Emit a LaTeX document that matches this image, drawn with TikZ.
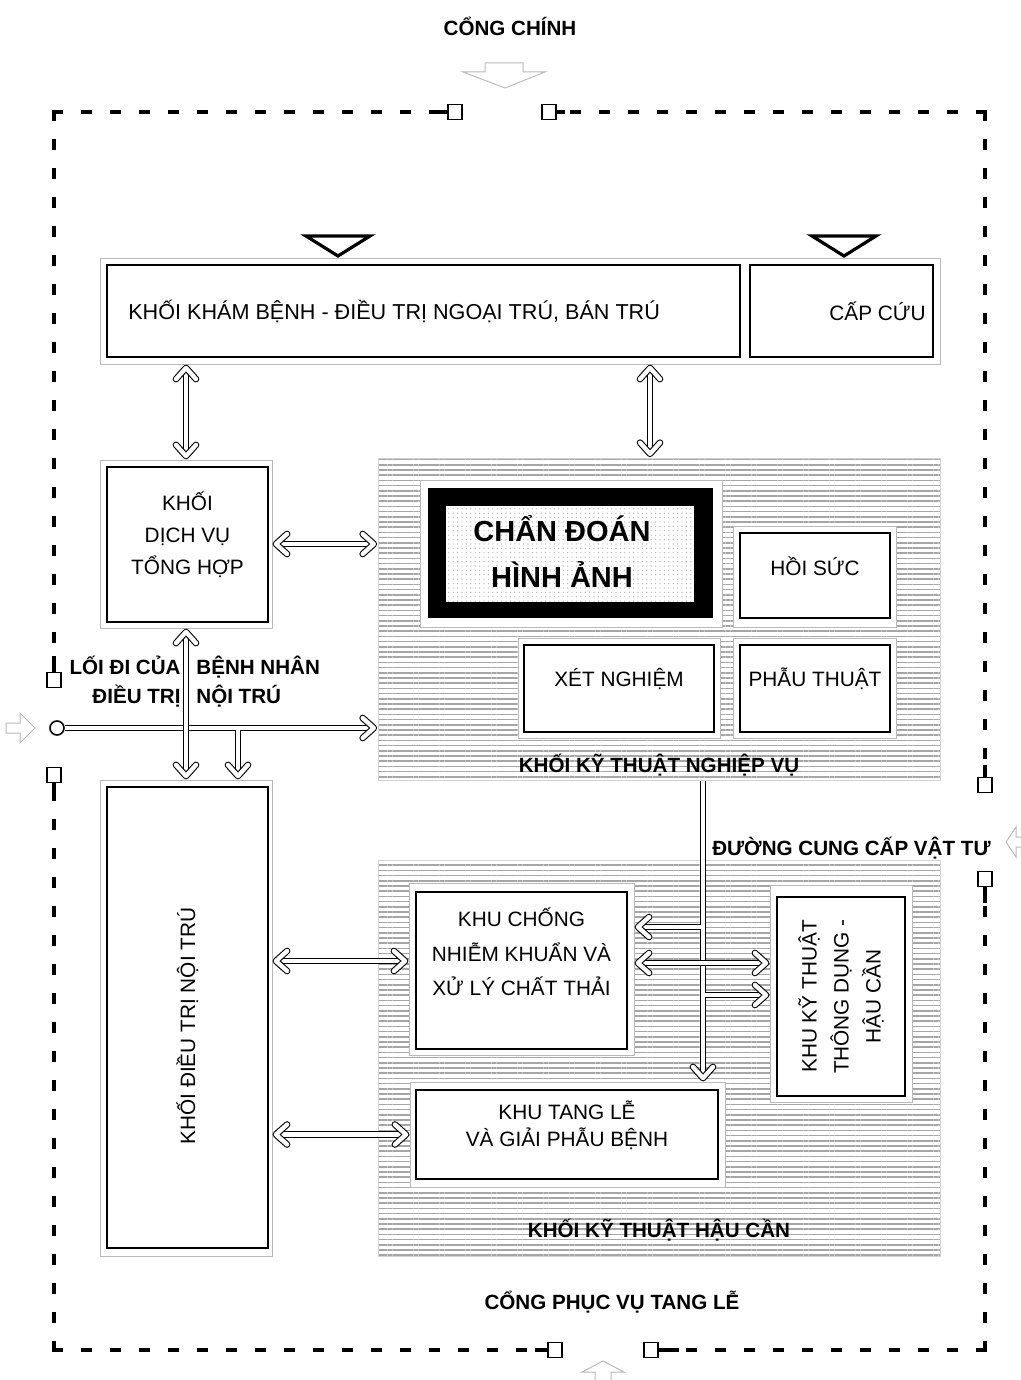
\documentclass[tikz,border=0pt]{standalone}
\usepackage{fontspec}
\setmainfont{Liberation Sans}
\usetikzlibrary{arrows.meta, positioning, calc, fit, patterns.meta}
% hollow chevron tip for the double connectors
\pgfdeclarearrow{
  name = Chevron,
  setup code = {
    \pgfarrowssettipend{0pt}
    \pgfarrowssetlineend{-1.7pt}
    \pgfarrowssetbackend{-9pt}
    \pgfarrowssetvisualbackend{-1.7pt}
    \pgfarrowshullpoint{0pt}{0pt}
    \pgfarrowsupperhullpoint{-9pt}{6.7pt}
  },
  drawing code = {
    \pgfsetinnerlinewidth{0pt}
    \pgfsetdash{}{0pt}
    \pgfsetroundcap\pgfsetroundjoin
    \pgfsetlinewidth{3.3pt}
    \pgfpathmoveto{\pgfqpoint{-7.3pt}{5pt}}
    \pgfpathlineto{\pgfqpoint{-1.7pt}{0pt}}
    \pgfpathlineto{\pgfqpoint{-7.3pt}{-5pt}}
    \pgfusepathqstroke
    \pgfsetlinewidth{2.2pt}
    \pgfsetstrokecolor{white}
    \pgfpathmoveto{\pgfqpoint{-7.3pt}{5pt}}
    \pgfpathlineto{\pgfqpoint{-1.7pt}{0pt}}
    \pgfpathlineto{\pgfqpoint{-7.3pt}{-5pt}}
    \pgfusepathqstroke
  }
}
\tikzset{
  frame/.style={rectangle, draw=gray!55, fill=white, line width=0.5pt, inner sep=0pt},
  box/.style={rectangle, draw=black, line width=1.1pt, inner sep=0pt, align=center, font=\fontsize{10.4}{16}\selectfont},
  hatch/.style={rectangle, inner sep=0pt, draw=gray!35, line width=0.4pt, pattern={Lines[angle=0, distance=2.6pt, line width=0.75pt]}, pattern color=gray!70},
  imaging/.style={rectangle, inner sep=0pt, fill=white, postaction={pattern={Dots[distance=2.2pt, radius=0.35pt]}, pattern color=gray!55}},
  txt/.style={font=\fontsize{10.4}{16}\selectfont, align=center, inner sep=0pt},
  lbl/.style={font=\fontsize{10.3}{14.5}\selectfont\bfseries, inner sep=0pt},
  dbl/.style={double=white, double distance=2.2pt, line width=0.55pt, Chevron-Chevron},
  dblend/.style={double=white, double distance=2.2pt, line width=0.55pt, -Chevron},
  border/.style={line width=2.2pt, line cap=rect, dash pattern=on 3.5pt off 11pt},
  stub/.style={line width=2.2pt},
  gatesq/.style={rectangle, draw, line width=0.9pt, fill=white, minimum width=7pt, minimum height=7.5pt, inner sep=0pt},
  gatearrow/.style={draw=gray!55, line width=0.5pt},
  tri/.style={line width=1.6pt, line join=miter}
}

\begin{document}
\begin{tikzpicture}[x=0.5pt, y=-0.5pt]
  \useasboundingbox (0,0) rectangle (1021,1380);

  % Gates
  \node[gatesq] (gt1) at (455,112) {};
  \node[gatesq] (gt2) at (549,112) {};
  \node[gatesq] (gl1) at (54,680) {};
  \node[gatesq] (gl2) at (54,775) {};
  \node[gatesq] (gr1) at (985,785) {};
  \node[gatesq] (gr2) at (985,879) {};
  \node[gatesq] (gb1) at (555,1350) {};
  \node[gatesq] (gb2) at (651,1350) {};
  \node[circle, draw, line width=0.8pt, minimum size=7pt, inner sep=0pt] (gate) at (57,728) {};

  % Outer boundary
  \draw[border] (54,112) -- (gt1.west);
  \draw[border] (985,112) -- (gt2.east);
  \draw[border] (54,112) -- (gl1.north);
  \draw[border] (54,1350) -- (gl2.south);
  \draw[border] (985,112) -- (gr1.north);
  \draw[border] (985,1350) -- (gr2.south);
  \draw[border] (54,1350) -- (gb1.west);
  \draw[border] (985,1350) -- (gb2.east);
  \draw[stub] (gt1.west) -- ++(-9pt,0);
  \draw[stub] (gt2.east) -- ++(4pt,0);
  \draw[stub] (gl1.north) -- ++(0,8pt);
  \draw[stub] (gl2.south) -- ++(0,-8pt);
  \draw[stub] (gr1.north) -- ++(0,6pt);
  \draw[stub] (gr2.south) -- ++(0,-8pt);
  \draw[stub] (gb1.west) -- ++(-6pt,0);
  \draw[stub] (gb2.east) -- ++(10pt,0);

  % Entry arrows outside
  \draw[gatearrow] (485,63) -- (523,63) -- (523,72) -- (545,72) -- (505,88) -- (463,72) -- (485,72) -- cycle;
  \draw[gatearrow] (6,723) -- (20,723) -- (20,713) -- (35,728) -- (20,743) -- (20,733) -- (6,733) -- cycle;
  \draw[gatearrow] (1021,837) -- (1016,837) -- (1016,827) -- (1006,842) -- (1016,857) -- (1016,847) -- (1021,847);
  \draw[gatearrow] (611,1380) -- (611,1372) -- (624,1372) -- (603,1361) -- (582,1372) -- (595,1372) -- (595,1380);

  % Outpatient block
  \node[frame, fit={(100,258) (940,364)}] (khamframe) {};
  \node[box, fit={(107,265) (740,357)}] (kham) {};
  \node[box, fit={(750,265) (933,357)}] (capcuu) {};
  \node[txt, anchor=west, font=\fontsize{10.8}{16}\selectfont] (khamtxt) at ([xshift=11pt]kham.west) {KHỐI KHÁM BỆNH - ĐIỀU TRỊ NGOẠI TRÚ, BÁN TRÚ};
  \node[txt, anchor=east] (capcuutxt) at ([xshift=-4pt]capcuu.east) {CẤP CỨU};
  \draw[tri] (306,236) -- (370,236) -- (338,256) -- cycle;
  \draw[tri] (812,236) -- (876,236) -- (844,256) -- cycle;

  % General services
  \node[frame, fit={(100,460) (272,628)}] (dichvuframe) {};
  \node[box, fit={(107,467) (268,622)}] (dichvu) {KHỐI\\DỊCH VỤ\\TỔNG HỢP};

  % Medical technical block
  \node[hatch, fit={(378,458) (940,780)}] (nghiepvu) {};
  \node[frame, fit={(420,480) (722,627)}] (cdhaframe) {};
  \node[rectangle, fill=black, inner sep=0pt, fit={(428,488) (713,618)}] (cdhaborder) {};
  \node[imaging, fit={(446,506) (694,602)}] (cdha) {};
  \node[align=center, inner sep=0pt, font=\fontsize{14.5}{23}\selectfont\bfseries] (cdhatxt) at ([xshift=-4pt, yshift=1.25pt]cdha.center) {CHẨN ĐOÁN\\HÌNH ẢNH};
  \node[frame, fit={(733,526) (896,627)}] (hoisucframe) {};
  \node[box, fit={(740,533) (890,618)}] (hoisuc) {HỒI SỨC};
  \node[frame, fit={(518,638) (720,738)}] (xetnghiemframe) {};
  \node[box, fit={(524,645) (714,732)}] (xetnghiem) {XÉT NGHIỆM};
  \node[frame, fit={(733,638) (896,738)}] (phauthuatframe) {};
  \node[box, fit={(740,645) (890,732)}] (phauthuat) {PHẪU THUẬT};
  \node[lbl] (nghiepvulbl) at ([yshift=8pt]nghiepvu.south) {KHỐI KỸ THUẬT NGHIỆP VỤ};

  % Inpatient block
  \node[frame, fit={(100,780) (272,1256)}] (noitruframe) {};
  \node[box, fit={(107,787) (268,1248)}] (noitru) {};
  \node[txt, rotate=90] (noitrutxt) at ([yshift=-4.25pt]noitru.center) {KHỐI ĐIỀU TRỊ NỘI TRÚ};

  % Logistics block
  \node[hatch, fit={(378,860) (940,1256)}] (haucan) {};
  \node[frame, fit={(409,883) (634,1055)}] (chongframe) {};
  \node[box, fit={(416,892) (627,1049)}] (chong) {};
  \node[txt, font=\fontsize{10.4}{17.25}\selectfont] (chongtxt) at ([yshift=9.25pt]chong.center) {KHU CHỐNG\\NHIỄM KHUẨN VÀ\\XỬ LÝ CHẤT THẢI};
  \node[frame, fit={(770,885) (912,1102)}] (kythuatframe) {};
  \node[box, fit={(777,897) (905,1096)}] (kythuat) {};
  \node[txt, rotate=90] (kythuattxt) at (kythuat.center) {KHU KỸ THUẬT\\THÔNG DỤNG -\\HẬU CẦN};
  \node[frame, fit={(410,1082) (725,1187)}] (tangleframe) {};
  \node[box, fit={(416,1090) (718,1179)}, font=\fontsize{10.4}{13.5}\selectfont] (tangle) {KHU TANG LỄ\\VÀ GIẢI PHẪU BỆNH};
  \node[lbl] (haucanlbl) at ([yshift=13pt]haucan.south) {KHỐI KỸ THUẬT HẬU CẦN};

  % Labels
  \node[lbl] (congchinh) at (510,26) {CỔNG CHÍNH};
  \node[lbl] (congtangle) at (612,1302) {CỔNG PHỤC VỤ TANG LỄ};
  \node[lbl, anchor=east, align=right] (loidi) at (181,682) {LỐI ĐI CỦA\\ĐIỀU TRỊ};
  \node[lbl, anchor=west, align=left] (benhnhan) at (196,682) {BỆNH NHÂN\\NỘI TRÚ};
  \node[lbl, anchor=east] (cungcap) at (991,848) {ĐƯỜNG CUNG CẤP VẬT TƯ};

  % Connectors
  \coordinate (techtop) at ([xshift=-4.5pt]nghiepvu.north);
  \draw[dbl] (khamframe.south -| dichvuframe.north) -- (dichvuframe.north);
  \draw[dbl] (techtop |- khamframe.south) -- (techtop);
  \draw[dbl] (dichvuframe.east) -- (dichvuframe.east -| nghiepvu.west);

  % Patient entrance
  \coordinate (fork) at (238,728);
  \draw[dblend] (gate.east) -- (gate.east -| nghiepvu.west);
  \draw[dblend] ([yshift=-1.1pt]fork) -- (fork |- noitruframe.north);
  \draw[dbl] (dichvuframe.south) -- (noitruframe.north);

  % Inpatient to logistics
  \coordinate (c1) at ([yshift=4pt]chongframe.west);
  \draw[dbl] (c1 -| noitruframe.east) -- (c1);
  \draw[dbl] (tangleframe.west -| noitruframe.east) -- (tangleframe.west);

  % Supply line
  \coordinate (supplytop) at ([xshift=22pt]nghiepvu.south);
  \coordinate (s1) at (703,927);
  \coordinate (s2) at (703,995);
  \coordinate (s3) at (703,963);
  \draw[dblend] (supplytop) -- (supplytop |- tangleframe.north);
  \draw[dblend] ([xshift=-1.1pt]s1) -- (s1 -| chongframe.east);
  \draw[dblend] ([xshift=1.1pt]s2) -- (s2 -| kythuatframe.west);
  \draw[dbl] (s3 -| chongframe.east) -- (s3 -| kythuatframe.west);
\end{tikzpicture}
\end{document}
